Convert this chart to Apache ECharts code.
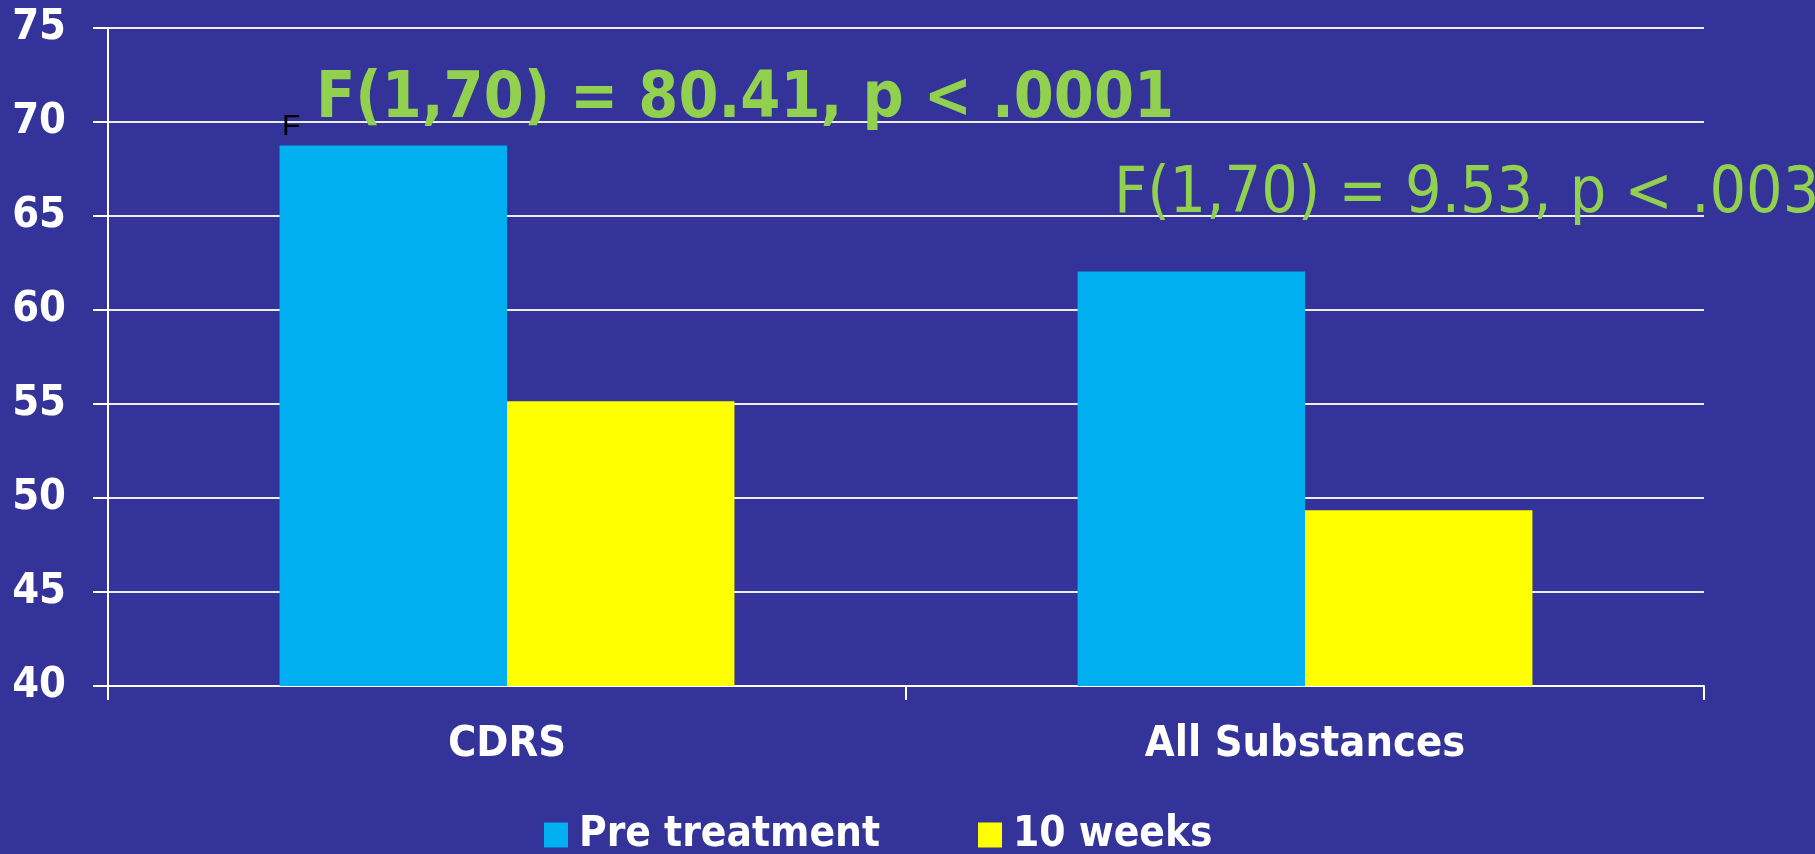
<!DOCTYPE html>
<html>
<head>
<meta charset="utf-8">
<script src="https://cdn.jsdelivr.net/npm/echarts@6/dist/echarts.min.js"></script>
<style>
html,body{margin:0;padding:0;background:#333399;}
#chart{width:1815px;height:854px;}
</style>
</head>
<body>
<div id="chart"></div>
<script>
const categories = ['CDRS', 'All Substances'];
const seriesNames = ['Pre treatment', '10 weeks'];
const preTreatment = [68.75, 62.05];
const tenWeeks = [55.15, 49.35];
const yTicks = { min: 40, max: 75, interval: 5 };
const annotations = [
  'F(1,70) = 80.41, p < .0001',
  'F(1,70) = 9.53, p < .003',
  'F'
];

const FONT = '"DejaVu Sans Condensed", "DejaVu Sans", sans-serif';
const chart = echarts.init(document.getElementById('chart'));
chart.setOption({
  backgroundColor: '#333399',
  animation: false,
  grid: { left: 108, right: 111, top: 28, bottom: 168 },
  legend: {
    data: seriesNames,
    top: 809,
    left: 539,
    itemWidth: 24,
    itemHeight: 25,
    itemGap: 98,
    icon: 'rect',
    textStyle: {
      color: '#ffffff',
      fontFamily: FONT,
      fontWeight: 'bold',
      fontSize: 42,
      padding: [0, 0, 0, 6]
    }
  },
  xAxis: {
    type: 'category',
    data: categories,
    axisLine: { show: true, lineStyle: { color: '#ffffff', width: 2 } },
    axisTick: { show: true, length: 14, lineStyle: { color: '#ffffff', width: 2 } },
    axisLabel: {
      color: '#ffffff',
      fontFamily: FONT,
      fontWeight: 'bold',
      fontSize: 43,
      margin: 37
    }
  },
  yAxis: {
    type: 'value',
    min: yTicks.min,
    max: yTicks.max,
    interval: yTicks.interval,
    axisLine: { show: true, lineStyle: { color: '#ffffff', width: 2 } },
    axisTick: { show: true, length: 15, lineStyle: { color: '#ffffff', width: 2 } },
    splitLine: { show: true, lineStyle: { color: '#ececf4', width: 2 } },
    axisLabel: {
      color: '#ffffff',
      fontFamily: FONT,
      fontWeight: 'bold',
      fontSize: 43,
      margin: 42
    }
  },
  series: [
    {
      name: seriesNames[0],
      type: 'bar',
      data: preTreatment,
      itemStyle: { color: '#00B0F0' },
      barGap: '0%',
      barCategoryGap: '43%'
    },
    {
      name: seriesNames[1],
      type: 'bar',
      data: tenWeeks,
      itemStyle: { color: '#FFFF00' },
      barGap: '0%',
      barCategoryGap: '43%'
    }
  ],
  graphic: [
    {
      type: 'text', left: 316, top: 68, z: 100,
      style: {
        text: annotations[0],
        fill: '#92D050',
        font: 'bold 64px ' + FONT
      }
    },
    {
      type: 'text', left: 1114, top: 163, z: 100,
      style: {
        text: annotations[1],
        fill: '#92D050',
        font: 'normal 64px ' + FONT
      }
    },
    {
      type: 'text', left: 282, top: 112, z: 100,
      style: {
        text: annotations[2],
        fill: '#000000',
        font: 'normal 30px "Liberation Sans", Arial, sans-serif'
      }
    }
  ]
});
</script>
</body>
</html>
